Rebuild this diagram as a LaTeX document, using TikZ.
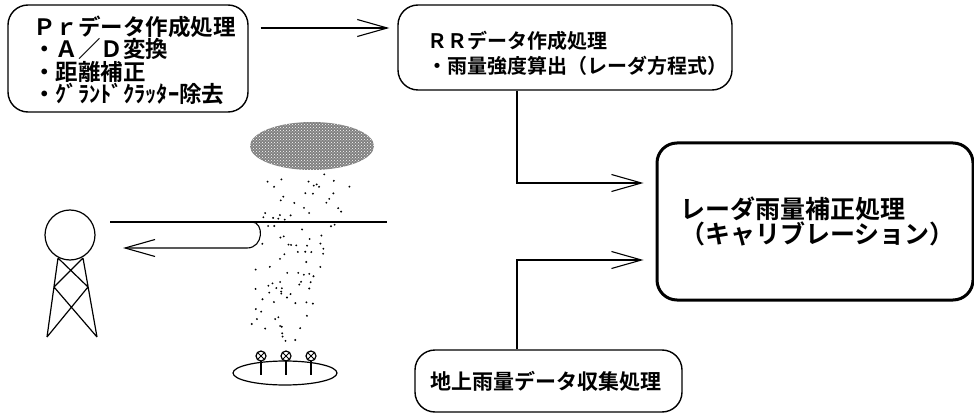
\documentclass[tikz,border=0pt]{standalone}
\usepackage{fontspec}
\setmainfont{Noto Sans CJK JP}[BoldFont=* Bold]
\usetikzlibrary{arrows.meta,patterns}
\begin{document}
\lineskiplimit=-20pt
\begin{tikzpicture}[x=1pt,y=-1pt,
  procbox/.style={draw,line width=1.4pt,rounded corners=20pt,align=left,
    inner ysep=0pt,anchor=center},
  conn/.style={line width=1.1pt,-{Straight Barb[length=30pt,width=17pt]}},
  thin line/.style={line width=1.2pt}]
\useasboundingbox (0,0) rectangle (974,414);

% process boxes
\node[procbox,minimum width=240pt,minimum height=107pt,inner xsep=25pt,
  text width=190pt,font=\fontsize{22.5}{22.3}\selectfont\bfseries]
  (pr) at (128,58.5) {\rule{0pt}{23pt}Ｐｒデータ作成処理\\・Ａ／Ｄ変換\\・距離補正\\・ｸﾞﾗﾝﾄﾞｸﾗｯﾀｰ除去};
\node[procbox,minimum width=334pt,minimum height=85pt,inner xsep=29pt,
  text width=276pt,font=\fontsize{20}{25}\selectfont\bfseries]
  (rr) at (565,47.5) {\rule{0pt}{29pt}ＲＲデータ作成処理\\・雨量強度算出（レーダ方程式）};
\node[procbox,line width=3pt,minimum width=316pt,minimum height=157pt,inner xsep=23pt,
  text width=270pt,font=\fontsize{25}{25}\selectfont\bfseries]
  (cal) at (815,221.5) {レーダ雨量補正処理\\（キャリブレーション）};
\node[procbox,minimum width=267pt,minimum height=62pt,inner xsep=15pt,
  text width=237pt,font=\fontsize{21}{22}\selectfont\bfseries]
  (gnd) at (548.5,381) {地上雨量データ収集処理};

% connectors
\coordinate (j0) at (0,28);
\coordinate (j1) at (517,183);
\coordinate (j2) at (517,260);
\draw[conn,shorten <=12pt,shorten >=8pt] (pr.east |- j0) -- (rr.west |- j0);
\draw[conn,shorten >=12pt] (rr.south -| j1) |- (cal.west |- j1);
\draw[conn,shorten >=12pt] (gnd.north -| j2) |- (cal.west |- j2);

% radar tower
\draw[thin line] (70,235) circle (25);
\draw[thin line] (58,258) -- (47,337) (83,258) -- (97,337)
  (58,258) -- (88,287) (83,258) -- (54,287)
  (54,287) -- (97,337) (88,287) -- (47,337);

% radar beam and echo
\draw[thin line] (110,222) -- (387,222);
\draw[conn] (252,222) .. controls (264,222) and (264,248) .. (247,248) -- (123,248);

% rain cloud
\fill[black!50] (312,146) ellipse [x radius=62, y radius=24];
\fill[pattern=crosshatch dots,pattern color=white] (312,146) ellipse [x radius=62, y radius=24];

% falling rain
\pgfmathsetseed{5}
\foreach \i in {1,...,95}{
  \pgfmathsetmacro\yy{172+170*rnd}
  \pgfmathsetmacro\tt{(\yy-172)/170}
  \pgfmathsetmacro\xl{264-16*\tt}
  \pgfmathsetmacro\xr{354-52*\tt}
  \pgfmathsetmacro\xx{\xl+(\xr-\xl)*rnd}
  \fill (\xx,\yy) circle (1.05);
}

% rain gauges on the ground
\draw[thin line] (285,373) ellipse [x radius=52, y radius=12];
\foreach \gx in {261,286,311}{
  \draw[thin line] (\gx,356) circle (5);
  \draw[line width=0.9pt] (\gx-3.5,352.5) -- (\gx+3.5,359.5) (\gx-3.5,359.5) -- (\gx+3.5,352.5);
  \draw[thin line] (\gx,361) -- (\gx,375);
}
\end{tikzpicture}
\end{document}
